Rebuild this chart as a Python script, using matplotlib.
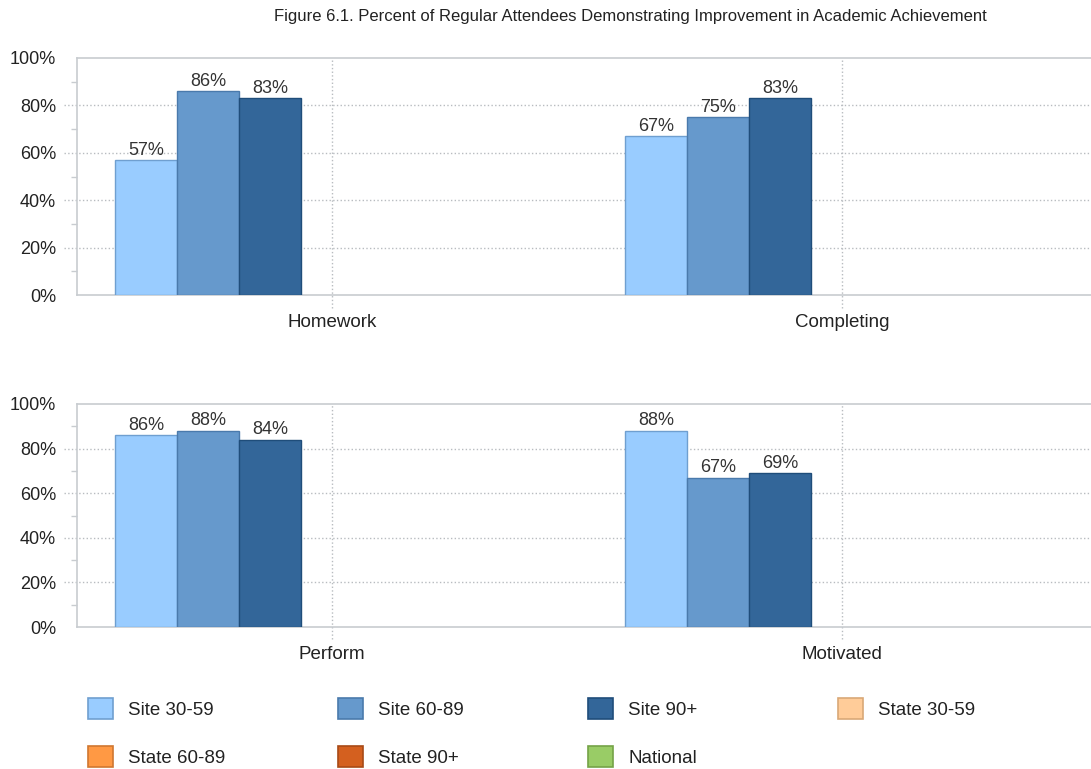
import numpy as np
import matplotlib
matplotlib.use("Agg")
import matplotlib.pyplot as plt
from matplotlib.patches import Patch

plt.rcParams['font.family'] = ['Liberation Sans', 'DejaVu Sans']

title = "Figure 6.1. Percent of Regular Attendees Demonstrating Improvement in Academic Achievement"
panel_cats = [["Homework", "Completing"], ["Perform", "Motivated"]]
series = ["Site 30-59", "Site 60-89", "Site 90+", "State 30-59", "State 60-89", "State 90+", "National"]
# values per panel, per category (state/national have no data)
site_3059 = [[57, 67], [86, 88]]
site_6089 = [[86, 75], [88, 67]]
site_90 = [[83, 83], [84, 69]]
fills = ["#99ccff", "#6699cc", "#336699", "#ffcc99", "#ff9944", "#d4601f", "#99cc66"]
edges = ["#6f9fd0", "#4a7aac", "#1f4d7a", "#d9a877", "#d07730", "#a84a16", "#74a347"]
yticks = [0, 20, 40, 60, 80, 100]

fig = plt.figure(figsize=(10.91, 7.69), dpi=100)
fig.text(630 / 1091, 1 - 17 / 769, title, ha='center', va='center', fontsize=12, color='#222222')

# axes run past the right edge of the picture, as in the original
axes_pos = [[77 / 1091, 1 - 295 / 769, 1020 / 1091, 237 / 769],
            [77 / 1091, 1 - 627 / 769, 1020 / 1091, 223 / 769]]

grey = '#c8ccd0'
n = len(series)
w = 0.85 / n
for p in range(2):
    ax = fig.add_axes(axes_pos[p])
    x = np.arange(len(panel_cats[p]))
    vals = [site_3059[p], site_6089[p], site_90[p]]
    for i in range(len(vals)):
        v = vals[i]
        bars = ax.bar(x + (i - (n - 1) / 2) * w, v, w, color=fills[i], edgecolor=edges[i],
                      linewidth=1, zorder=3)
        ax.bar_label(bars, labels=["%d%%" % a for a in v], padding=1, fontsize=13, color='#333333')
    ax.set_xlim(-0.5, len(x) - 0.5)
    ax.set_ylim(0, 100)
    ax.set_yticks(yticks)
    ax.set_yticklabels(["%d%%" % t for t in yticks], fontsize=13, color='#222222')
    ax.set_yticks(range(10, 100, 20), minor=True)
    ax.tick_params(axis='y', which='major', length=0, pad=15)
    ax.tick_params(axis='y', which='minor', length=4, color=grey, width=1)
    ax.set_xticks(x)
    ax.set_xticklabels(panel_cats[p], fontsize=13.5, color='#222222')
    ax.tick_params(axis='x', length=0, pad=14)
    for t in yticks[1:-1]:
        ax.axhline(t, xmin=-13 / 1020, xmax=1, color='#b8bcc0', linestyle=':', linewidth=1,
                   clip_on=False, zorder=1)
    for c in x:
        ax.axvline(c, ymin=-0.055, ymax=1, color='#b8bcc0', linestyle=':', linewidth=1,
                   clip_on=False, zorder=1)
    for s in ax.spines.values():
        s.set_color(grey)
        s.set_linewidth(1.2)

# legend laid out row-wise, one legend per column
handles = [Patch(facecolor=fills[i], edgecolor=edges[i], linewidth=1.2, label=series[i]) for i in range(n)]
cols = [[0, 4], [1, 5], [2, 6], [3]]
for j, idx in enumerate(cols):
    leg = fig.legend([handles[k] for k in idx], [series[k] for k in idx],
                     loc='upper left', bbox_to_anchor=((88 + 250 * j) / 1091, 1 - 698 / 769),
                     frameon=False, fontsize=13.5, handlelength=1.35, handleheight=1.35,
                     handletextpad=0.8, labelspacing=1.45, borderpad=0, borderaxespad=0,
                     labelcolor='#222222')

fig.savefig("out.png", dpi=100)
